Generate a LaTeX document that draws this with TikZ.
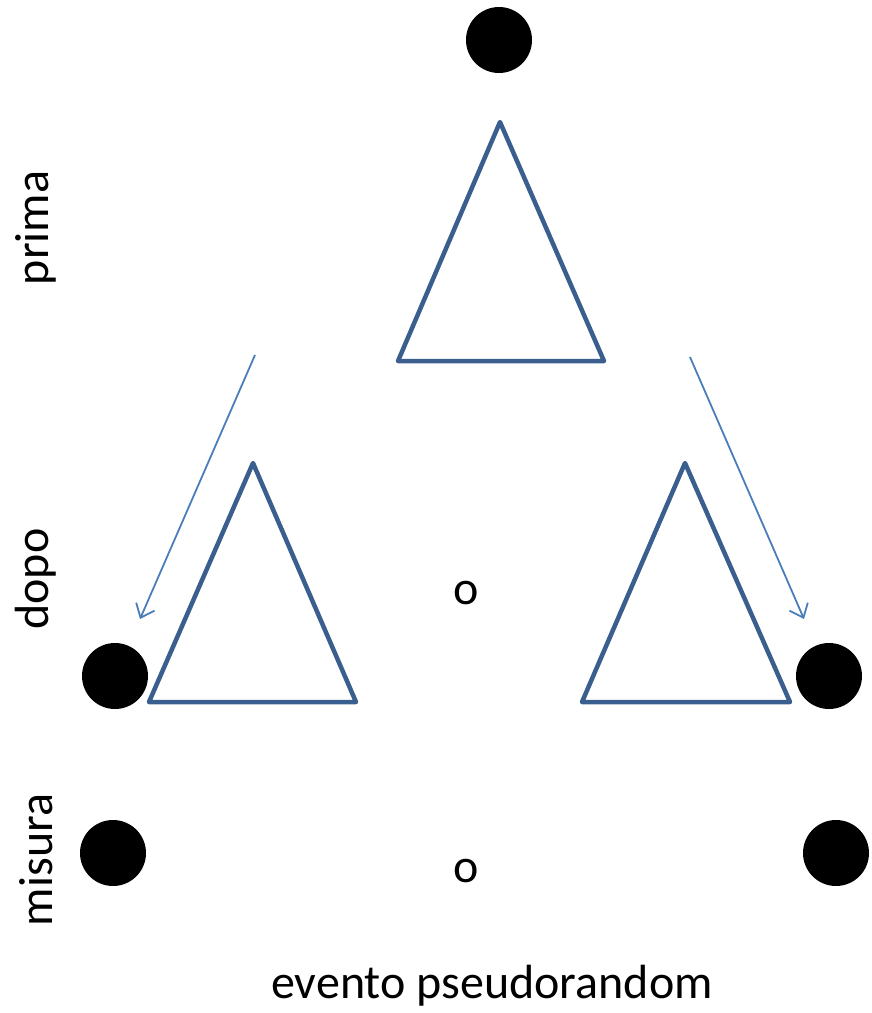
\documentclass[tikz,border=0pt]{standalone}
\usepackage{fontspec}
\setmainfont{Carlito}
\usetikzlibrary{arrows.meta}
\definecolor{tri}{HTML}{3A5F8E}
\definecolor{arr}{HTML}{4A7EBB}
\begin{document}
\begin{tikzpicture}[x=1pt,y=-1pt,
  tribox/.style={draw=tri,line width=4.5pt,line join=round},
  dot/.style={circle,fill=black,minimum size=66pt,inner sep=0pt},
  lbl/.style={font=\fontsize{48}{50}\selectfont,inner sep=0pt},
  arrowline/.style={draw=arr,line width=1.8pt,-{Straight Barb[length=12pt,width=20pt,line width=1.8pt]}}]
\useasboundingbox (0,0) rectangle (871,1013);
% dots
\node[dot] (dtop) at (499,40) {};
\node[dot] (dl) at (115,676) {};
\node[dot] (dr) at (829,676) {};
\node[dot] (ml) at (113,853) {};
\node[dot] (mr) at (836,853) {};
% triangles
\draw[tribox] (500,122) -- (604,361) -- (398,361) -- cycle;
\draw[tribox] (253,463) -- (356,702) -- (149,702) -- cycle;
\draw[tribox] (685,463) -- (790,702) -- (582,702) -- cycle;
% arrows
\coordinate (a1s) at (255,355);
\coordinate (a1e) at (140,619);
\coordinate (a2s) at (690,357);
\coordinate (a2e) at (804,619);
\draw[arrowline] (a1s) -- (a1e);
\draw[arrowline] (a2s) -- (a2e);
% texts
\node[lbl] (o1) at (466,593) {o};
\node[lbl] (o2) at (466,871) {o};
\node[lbl] (ev) at (492,986) {evento pseudorandom};
\node[lbl,rotate=90] (prima) at (36,228) {prima};
\node[lbl,rotate=90] (dopo) at (36,579) {dopo};
\node[lbl,rotate=90] (misura) at (36,860) {misura};
\end{tikzpicture}
\end{document}
